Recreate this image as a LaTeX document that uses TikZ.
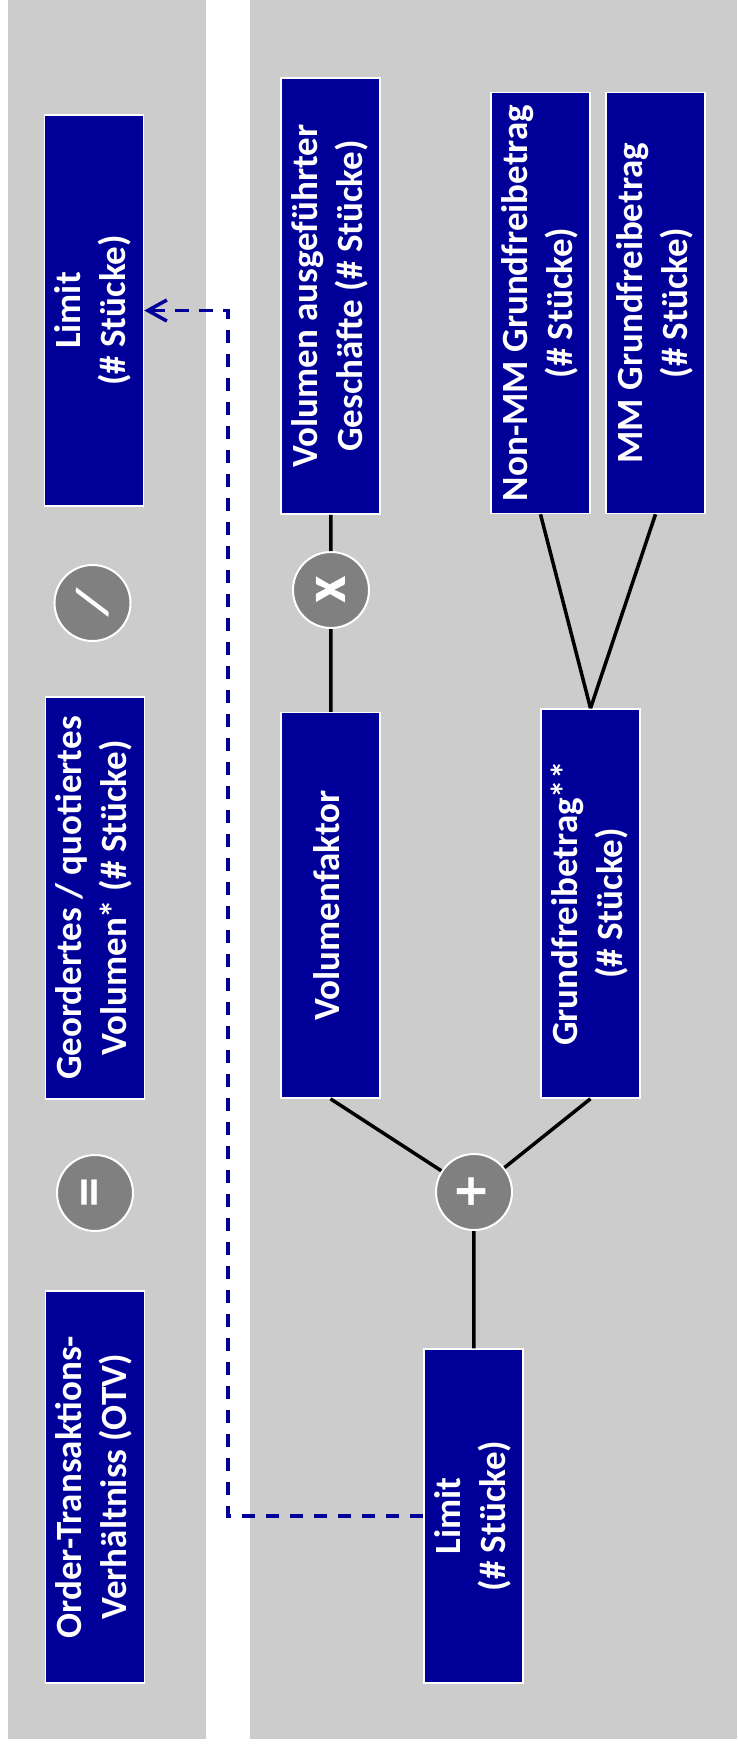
\documentclass[tikz,border=0pt]{standalone}
\usepackage{fontspec}
\setmainfont{Carlito}
\usetikzlibrary{arrows.meta}
\definecolor{otvblue}{RGB}{0,0,153}
\definecolor{panelgray}{RGB}{204,204,204}
\definecolor{opgray}{RGB}{128,128,128}
\newcommand{\boxtxt}[1]{\rotatebox{90}{\begin{tabular}{@{}c@{}}#1\end{tabular}}}
\begin{document}
\begin{tikzpicture}[x=1pt,y=-1pt,
  bluebox/.style={rectangle,fill=otvblue,draw=white,line width=1.5pt,inner sep=0pt,minimum width=99pt,text=white,font=\fontsize{37}{45}\selectfont\bfseries},
  opcircle/.style={circle,fill=opgray,draw=white,line width=2pt,minimum size=76pt,inner sep=0pt,text=white,font=\fontsize{60}{70}\selectfont\bfseries},
  conn/.style={black,line width=3.5pt},
  dasharrow/.style={otvblue,line width=3.5pt,dash pattern=on 13.5pt off 10.5pt,-{Straight Barb[length=19pt,width=21pt]}}]
\useasboundingbox (0,0) rectangle (737,1748);
\fill[white] (0,0) rectangle (737,1748);
\fill[panelgray] (8,0) rectangle (206,1739);
\fill[panelgray] (250,0) rectangle (737,1739);

% left column
\node[bluebox,minimum height=391pt] (limtop) at (94,310.5) {\boxtxt{Limit\\(\# Stücke)}};
\node[opcircle,font=\fontsize{50}{60}\selectfont\bfseries] (divc) at (92.5,603) {\rotatebox{90}{\rotatebox{-12}{/}}};
\node[bluebox,minimum height=402pt] (geo) at (95,898) {\boxtxt{Geordertes / quotiertes\\Volumen* (\# Stücke)}};
\node[opcircle] (eqc) at (95,1193) {\rotatebox{90}{=}};
\node[bluebox,minimum height=392pt] (otv) at (95,1487) {\boxtxt{Order-Transaktions-\\Verhältniss (OTV)}};

% right part
\node[bluebox,minimum height=436pt] (va) at (330.5,296) {\boxtxt{Volumen ausgeführter\\Geschäfte (\# Stücke)}};
\node[bluebox,minimum height=421pt] (nonmm) at (540.5,303) {\boxtxt{Non-MM Grundfreibetrag\\(\# Stücke)}};
\node[bluebox,minimum height=421pt] (mm) at (655.5,303) {\boxtxt{MM Grundfreibetrag\\(\# Stücke)}};
\node[opcircle] (mulc) at (331,590) {\rotatebox{90}{x}};
\node[bluebox,minimum height=385.5pt] (vf) at (330.5,905.3) {\boxtxt{Volumenfaktor}};
\node[bluebox,minimum height=389pt] (gf) at (590.5,903.5) {\boxtxt{Grundfreibetrag**\\(\# Stücke)}};
\node[opcircle] (plusc) at (474,1192) {\rotatebox{90}{+}};
\node[bluebox,minimum height=334pt] (lim2) at (473.5,1516) {\boxtxt{Limit\\(\# Stücke)}};

% connectors
\draw[conn] (va) -- (mulc);
\draw[conn] (mulc) -- (vf);
\draw[conn] (nonmm.south) -- (gf.north);
\draw[conn] (mm.south) -- (gf.north);
\draw[conn] (vf.south) -- (plusc);
\draw[conn] (gf.south) -- (plusc);
\draw[conn] (plusc) -- (lim2);

% dashed feedback arrow
\coordinate (d1) at (228,1516);
\coordinate (d2) at (228,310.5);
\draw[dasharrow] (lim2.west) -- (d1) -- (d2) -- (limtop.east);
\end{tikzpicture}
\end{document}
